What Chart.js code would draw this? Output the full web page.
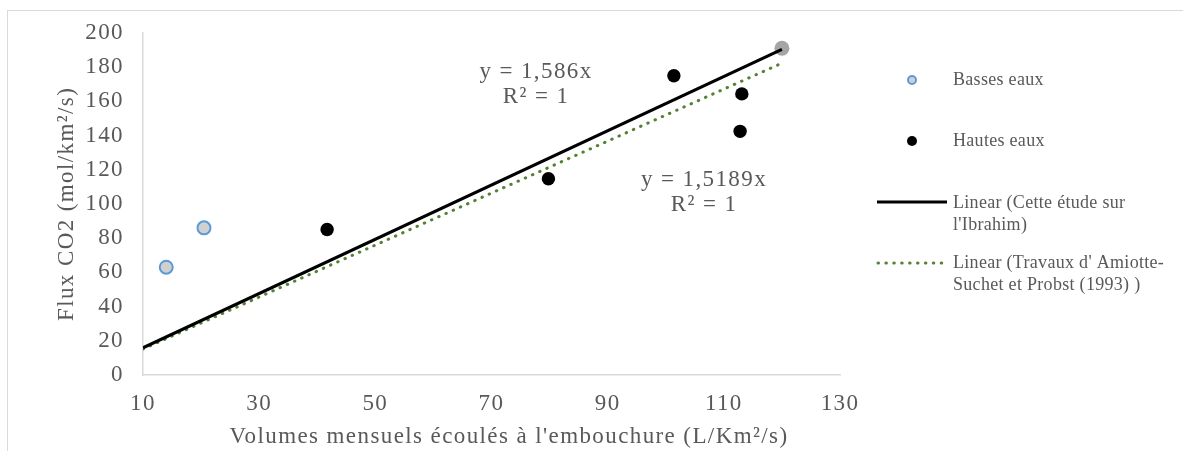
<!DOCTYPE html>
<html>
<head>
<meta charset="utf-8">
<script src="https://cdn.jsdelivr.net/npm/chart.js@4/dist/chart.umd.min.js"></script>
<style>
  html, body { margin: 0; padding: 0; background: #fff; overflow: hidden; }
  #wrap { position: relative; width: 1183px; height: 451px; }
</style>
</head>
<body>
<div id="wrap"><canvas id="fluxChart" width="1183" height="451"></canvas></div>
<script>
'use strict';

// data
const basseX = [14, 20.5];
const basseY = [63, 86];
const hauteX = [41.7, 79.8, 101.4, 113.1, 112.8];
const hauteY = [85, 114.7, 174.9, 164.3, 142.4];
const refX = [120];
const refY = [191];

// trend lines y = a*x, drawn over x range
const trendRange = [10, 120];
const slopeEtude = 1.586;
const slopeTravaux = 1.5189;

const xTicks = [10, 30, 50, 70, 90, 110, 130];
const yTicks = [0, 20, 40, 60, 80, 100, 120, 140, 160, 180, 200];

const xTitle = "Volumes mensuels écoulés à l'embouchure (L/Km²/s)";
const yTitle = 'Flux CO2 (mol/km²/s)';

const legendLabels = [
	['Basses eaux'],
	['Hautes eaux'],
	['Linear (Cette étude sur', "l'Ibrahim)"],
	["Linear (Travaux d' Amiotte-", 'Suchet et Probst (1993) )'],
];

const serif = "'Liberation Serif', 'Times New Roman', serif";
const grey = '#595959';
const green = '#548235';
const spacing = '1.4px';

const toPoints = (xs, ys) => xs.map((x, i) => ({ x: x, y: ys[i] }));
const trend = (a) => trendRange.map((x) => ({ x: x, y: a * x }));

const spacingPlugin = {
	id: 'spacing',
	beforeLayout(chart) {
		chart.ctx.letterSpacing = spacing;
	},
	beforeDraw(chart) {
		const ctx = chart.ctx;
		ctx.save();
		ctx.fillStyle = '#fff';
		ctx.fillRect(0, 0, chart.width, chart.height);
		ctx.strokeStyle = '#d9d9d9';
		ctx.lineWidth = 1;
		ctx.strokeRect(7.5, 10.5, 2000, 2000);
		ctx.restore();
		ctx.letterSpacing = spacing;
	},
};

const extrasPlugin = {
	id: 'extras',
	afterDraw(chart) {
		const ctx = chart.ctx;
		ctx.save();

		ctx.font = '23px ' + serif;
		ctx.letterSpacing = spacing;
		ctx.fillStyle = grey;
		ctx.textAlign = 'center';
		ctx.textBaseline = 'middle';

		// x axis title
		ctx.fillText(xTitle, 509, 437);

		// equations
		ctx.fillText('y = ' + String(slopeEtude).replace('.', ',') + 'x', 536, 72);
		ctx.fillText('R² = 1', 536, 97);
		ctx.fillText('y = ' + String(slopeTravaux).replace('.', ',') + 'x', 704, 180);
		ctx.fillText('R² = 1', 704, 205);

		// legend
		ctx.font = '18px ' + serif;
		ctx.letterSpacing = '0.3px';
		ctx.textAlign = 'left';
		const textX = 953;
		const rows = [80, 141, 203, 263];

		ctx.beginPath();
		ctx.arc(912, rows[0], 4, 0, Math.PI * 2);
		ctx.fillStyle = '#d0d0d0';
		ctx.fill();
		ctx.lineWidth = 2;
		ctx.strokeStyle = '#5b9bd5';
		ctx.stroke();

		ctx.beginPath();
		ctx.arc(912, rows[1], 5, 0, Math.PI * 2);
		ctx.fillStyle = '#000';
		ctx.fill();

		ctx.beginPath();
		ctx.moveTo(877, rows[2] - 1);
		ctx.lineTo(947, rows[2] - 1);
		ctx.lineWidth = 3;
		ctx.strokeStyle = '#000';
		ctx.stroke();

		ctx.beginPath();
		ctx.setLineDash([0.5, 7.4]);
		ctx.lineCap = 'round';
		ctx.moveTo(878, rows[3]);
		ctx.lineTo(944, rows[3]);
		ctx.lineWidth = 3;
		ctx.strokeStyle = green;
		ctx.stroke();
		ctx.setLineDash([]);

		ctx.fillStyle = grey;
		legendLabels.forEach((lines, i) => {
			lines.forEach((t, j) => {
				ctx.fillText(t, textX, rows[i] + j * 22);
			});
		});
		ctx.restore();
	},
};

const ctx = document.getElementById('fluxChart');

new Chart(ctx, {
	type: 'scatter',
	data: {
		datasets: [
			{
				label: 'Basses eaux',
				data: toPoints(basseX, basseY),
				pointRadius: 6.5,
				pointBackgroundColor: '#d0d0d0',
				pointBorderColor: '#5b9bd5',
				pointBorderWidth: 2,
			},
			{
				label: 'Hautes eaux',
				data: toPoints(hauteX, hauteY),
				pointRadius: 6.7,
				pointBackgroundColor: '#000',
				pointBorderColor: '#000',
				pointBorderWidth: 0,
			},
			{
				label: "Linear (Cette étude sur l'Ibrahim)",
				data: trend(slopeEtude),
				showLine: true,
				borderColor: '#000',
				borderWidth: 3.2,
				pointRadius: 0,
			},
			{
				label: "Linear (Travaux d' Amiotte-Suchet et Probst (1993) )",
				data: trend(slopeTravaux),
				showLine: true,
				borderColor: green,
				borderWidth: 3,
				borderDash: [0.5, 7.4],
				borderCapStyle: 'round',
				pointRadius: 0,
			},
			{
				label: 'Cette étude sur l\'Ibrahim',
				data: toPoints(refX, refY),
				pointRadius: 7.5,
				pointBackgroundColor: '#a5a5a5',
				pointBorderColor: '#a5a5a5',
				pointBorderWidth: 0,
			},
		],
	},
	options: {
		responsive: false,
		animation: false,
		devicePixelRatio: 1,
		layout: {
			padding: { left: 0, right: 343, top: 32, bottom: 0 },
		},
		scales: {
			x: {
				type: 'linear',
				min: xTicks[0],
				max: xTicks[xTicks.length - 1],
				afterFit: (scale) => { scale.height = 76; },
				afterBuildTicks: (scale) => { scale.ticks = xTicks.map((v) => ({ value: v })); },
				grid: { display: false, drawTicks: false },
				border: { display: true, color: '#d9d9d9', width: 1.5 },
				ticks: {
					color: grey,
					padding: 15,
					font: { family: serif, size: 23 },
				},
				title: { display: false },
			},
			y: {
				type: 'linear',
				min: yTicks[0],
				max: yTicks[yTicks.length - 1],
				afterFit: (scale) => { scale.width = 143; },
				afterBuildTicks: (scale) => { scale.ticks = yTicks.map((v) => ({ value: v })); },
				grid: { display: false, drawTicks: false },
				border: { display: true, color: '#d9d9d9', width: 1.5 },
				ticks: {
					color: grey,
					padding: 19,
					font: { family: serif, size: 23 },
				},
				title: {
					display: true,
					text: yTitle,
					color: grey,
					font: { family: serif, size: 23 },
					padding: { top: 53, bottom: 0 },
				},
			},
		},
		plugins: {
			legend: { display: false },
			tooltip: { enabled: false },
		},
	},
	plugins: [spacingPlugin, extrasPlugin],
});
</script>
</body>
</html>
